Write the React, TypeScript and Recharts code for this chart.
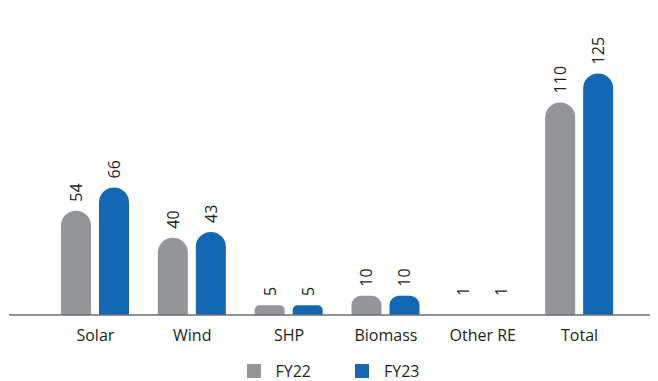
import React from "react";
import { BarChart, Bar, XAxis, YAxis, Legend, LabelList, Rectangle } from "recharts";

const categories = ["Solar", "Wind", "SHP", "Biomass", "Other RE", "Total"];
const fy22 = [54, 40, 5, 10, 1, 110];
const fy23 = [66, 43, 5, 10, 1, 125];

const GRAY = "#939598";
const BLUE = "#1467b3";
const FONT = "'Open Sans', sans-serif";

const data = categories.map((name, i) => ({ name, FY22: fy22[i], FY23: fy23[i] }));

// very small bars are not drawn in the original, only their labels
const RoundedBar = (props: any) => {
  if (props.height < 3) return null;
  return <Rectangle {...props} />;
};

const VerticalLabel = (props: any) => {
  const { x, y, width, height, value } = props;
  const base = y + height;
  const cx = x + width / 2;
  const cy = Math.min(y, base - 10) - 9;
  return (
    <text
      x={cx}
      y={cy}
      transform={`rotate(-90, ${cx}, ${cy})`}
      textAnchor="start"
      dominantBaseline="central"
      fill="#231f20"
      fontSize={16}
      fontFamily={FONT}
    >
      {value}
    </text>
  );
};

const LegendContent = () => (
  <div
    style={{
      display: "flex",
      justifyContent: "center",
      fontFamily: FONT,
      fontSize: 16,
      lineHeight: "16px",
      color: "#231f20",
    }}
  >
    {[
      { label: "FY22", color: GRAY },
      { label: "FY23", color: BLUE },
    ].map((item, i) => (
      <div key={item.label} style={{ display: "flex", alignItems: "center", marginLeft: i ? 44 : 0 }}>
        <span style={{ width: 14, height: 14, background: item.color, display: "inline-block", marginRight: 15 }} />
        <span>{item.label}</span>
      </div>
    ))}
  </div>
);

export default function App() {
  return (
    <div style={{ width: 650, height: 373 }}>
      <BarChart
        width={650}
        height={373}
        data={data}
        margin={{ top: 48, right: 1, bottom: 4, left: 1 }}
        barSize={30}
        barGap={8}
      >
        <XAxis
          dataKey="name"
          stroke="#6d6e71"
          strokeWidth={1.5}
          tickLine={false}
          padding={{ left: 38, right: 29 }}
          tick={{ fill: "#231f20", fontSize: 16, fontFamily: FONT }}
          tickMargin={9}
          height={46}
        />
        <YAxis hide domain={[0, 134]} />
        <Legend content={<LegendContent />} verticalAlign="bottom" wrapperStyle={{ bottom: 2 }} />
        <Bar dataKey="FY22" fill={GRAY} radius={[15, 15, 0, 0]} shape={<RoundedBar />} isAnimationActive={false}>
          <LabelList dataKey="FY22" content={<VerticalLabel />} />
        </Bar>
        <Bar dataKey="FY23" fill={BLUE} radius={[15, 15, 0, 0]} shape={<RoundedBar />} isAnimationActive={false}>
          <LabelList dataKey="FY23" content={<VerticalLabel />} />
        </Bar>
      </BarChart>
    </div>
  );
}
